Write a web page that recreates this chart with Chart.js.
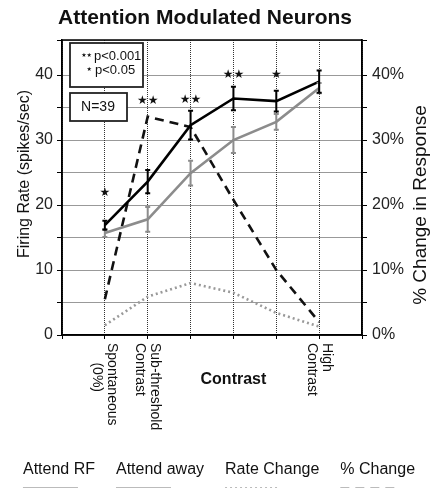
<!DOCTYPE html>
<html>
<head>
<meta charset="utf-8">
<script src="https://cdn.jsdelivr.net/npm/chart.js@4/dist/chart.umd.min.js"></script>
<style>
  body { margin: 0; background: #fff; }
</style>
</head>
<body>
<canvas id="GraphiqueAttention" width="430" height="488"></canvas>
<script>
// valeurs
var etapesContraste = [0, 1, 2, 3, 4, 5];
var etiquettesX = [['Spontaneous', '     (0%)'], ['Sub-threshold', 'Contrast'], [], [], [], ['High', 'Contrast']];
var attendRF = [16.9, 23.6, 32.3, 36.4, 36.0, 39.0];
var attendRFErr = [0.7, 1.8, 2.2, 1.8, 1.6, 1.7];
var attendAway = [15.7, 17.8, 24.9, 30.0, 32.8, 38.0];
var attendAwayErr = [0.6, 1.9, 1.9, 2.0, 1.2, 0.8];
var rateChange = [1.5, 5.9, 8.0, 6.5, 3.4, 1.3];
var pctChange = [5.5, 33.6, 32.0, 20.8, 10.0, 2.0];
var etoiles = ['★', '★★', '★★', '★★', '★', ''];
var etoilesY = [21.8, 36.0, 36.2, 40.0, 40.0, null];

var police = '"Liberation Sans", Arial, Helvetica, sans-serif';

function points(valeurs) {
    return valeurs.map(function (v, i) { return { x: etapesContraste[i], y: v }; });
}

var decorations = {
    id: 'decorations',
    afterDatasetsDraw: function (chart) {
        var ctx = chart.ctx;
        var a = chart.chartArea;
        var x = chart.scales.x, y = chart.scales.y;

        ctx.save();
        // cadre
        ctx.strokeStyle = '#000';
        ctx.lineWidth = 1.5;
        ctx.strokeRect(a.left, a.top, a.right - a.left, a.bottom - a.top);

        // barres d'erreur
        function barres(valeurs, erreurs, couleur) {
            ctx.strokeStyle = couleur;
            ctx.lineWidth = 2;
            valeurs.forEach(function (v, i) {
                var px = x.getPixelForValue(etapesContraste[i]);
                var haut = y.getPixelForValue(v + erreurs[i]);
                var bas = y.getPixelForValue(v - erreurs[i]);
                ctx.beginPath();
                ctx.moveTo(px, haut); ctx.lineTo(px, bas);
                ctx.moveTo(px - 2.5, haut); ctx.lineTo(px + 2.5, haut);
                ctx.moveTo(px - 2.5, bas); ctx.lineTo(px + 2.5, bas);
                ctx.stroke();
            });
        }
        barres(attendAway, attendAwayErr, '#8c8c8c');
        barres(attendRF, attendRFErr, '#000');

        // etoiles de significativite
        ctx.fillStyle = '#111';
        ctx.font = '12px "DejaVu Sans"';
        ctx.textAlign = 'center';
        ctx.textBaseline = 'middle';
        etoiles.forEach(function (s, i) {
            if (!s) return;
            ctx.fillText(s, x.getPixelForValue(etapesContraste[i]), y.getPixelForValue(etoilesY[i]));
        });

        // petites boites en haut a gauche
        ctx.fillStyle = '#fff';
        ctx.strokeStyle = '#222';
        ctx.lineWidth = 1.8;
        ctx.fillRect(a.left + 8, a.top + 3, 73, 44);
        ctx.strokeRect(a.left + 8, a.top + 3, 73, 44);
        ctx.fillRect(a.left + 8, a.top + 53, 57, 28);
        ctx.strokeRect(a.left + 8, a.top + 53, 57, 28);

        ctx.fillStyle = '#111';
        ctx.textAlign = 'left';
        ctx.font = '13px ' + police;
        ctx.fillText('p<0.001', a.left + 32, a.top + 16);
        ctx.fillText('p<0.05', a.left + 33, a.top + 30);
        ctx.textAlign = 'right';
        ctx.font = '6px "DejaVu Sans"';
        ctx.fillText('★★', a.left + 30, a.top + 15);
        ctx.fillText('★', a.left + 30, a.top + 29);
        ctx.textAlign = 'center';
        ctx.font = '14px ' + police;
        ctx.fillText('N=39', a.left + 36, a.top + 67);
        ctx.restore();
    },
    afterDraw: function (chart) {
        var ctx = chart.ctx;
        var a = chart.chartArea;
        var x = chart.scales.x;

        ctx.save();
        ctx.fillStyle = '#111';
        ctx.textBaseline = 'middle';

        // titre
        ctx.textAlign = 'center';
        ctx.font = 'bold 21px ' + police;
        ctx.fillText('Attention Modulated Neurons', 205, 18);

        // etiquettes de l'axe x, tournees
        ctx.font = '14px ' + police;
        ctx.textAlign = 'left';
        etiquettesX.forEach(function (lignes, i) {
            var px = x.getPixelForValue(etapesContraste[i]);
            ctx.save();
            ctx.translate(px, a.bottom + 8);
            ctx.rotate(Math.PI / 2);
            lignes.forEach(function (l, j) {
                ctx.fillText(l, 0, (j - (lignes.length - 1) / 2) * 15);
            });
            ctx.restore();
        });

        ctx.textAlign = 'center';
        ctx.font = 'bold 16px ' + police;
        ctx.fillText('Contrast', x.getPixelForValue(3), a.bottom + 45);

        // titres des axes y
        ctx.font = '16px ' + police;
        ctx.save();
        ctx.translate(25, 174);
        ctx.rotate(-Math.PI / 2);
        ctx.fillText('Firing Rate (spikes/sec)', 0, 0);
        ctx.restore();

        ctx.font = '19px ' + police;
        ctx.save();
        ctx.translate(421, 205);
        ctx.rotate(-Math.PI / 2);
        ctx.fillText('% Change in Response', 0, 0);
        ctx.restore();

        // traits de legende sous les libelles (coupes par le bas de l'image)
        var boites = chart.legend.legendHitBoxes;
        chart.data.datasets.forEach(function (d, i) {
            var b = boites[i];
            if (!b) return;
            ctx.strokeStyle = '#bbb';
            ctx.lineWidth = 2;
            ctx.setLineDash(d.borderDash || []);
            ctx.beginPath();
            ctx.moveTo(b.left + 8, 488);
            ctx.lineTo(b.left + 63, 488);
            ctx.stroke();
        });
        ctx.restore();
    }
};

var ctx = document.getElementById('GraphiqueAttention').getContext('2d');

var graphique = new Chart(ctx, {
    type: 'line',
    data: {
        datasets: [
            {
                label: 'Attend RF',
                data: points(attendRF),
                borderColor: '#000',
                borderWidth: 2.6,
                yAxisID: 'y'
            },
            {
                label: 'Attend away',
                data: points(attendAway),
                borderColor: '#8c8c8c',
                borderWidth: 2.6,
                yAxisID: 'y'
            },
            {
                label: 'Rate Change',
                data: points(rateChange),
                borderColor: '#999',
                borderDash: [2, 3],
                borderWidth: 2.6,
                yAxisID: 'y'
            },
            {
                label: '% Change',
                data: points(pctChange),
                borderColor: '#111',
                borderDash: [9, 6],
                borderWidth: 2.6,
                yAxisID: 'y2'
            }
        ]
    },
    options: {
        responsive: false,
        animation: false,
        layout: { padding: { top: 40, left: 0, right: 0, bottom: 0 } },
        elements: {
            point: { radius: 0 },
            line: { tension: 0, fill: false }
        },
        scales: {
            x: {
                type: 'linear',
                min: -1,
                max: 6,
                ticks: { display: false, stepSize: 1 },
                grid: { color: '#333', tickLength: 4, tickColor: '#000' },
                border: { display: true, color: '#000', width: 1.5, dash: [1, 1] },
                afterFit: function (s) { s.height = 114; }
            },
            y: {
                position: 'left',
                min: 0,
                max: 45.4,
                ticks: {
                    stepSize: 5,
                    padding: 4,
                    color: '#222',
                    font: { size: 16, family: police },
                    callback: function (v) { return v % 10 === 0 ? v : ''; }
                },
                grid: { color: '#333', tickLength: 5, tickColor: '#000' },
                border: { display: true, color: '#000', width: 1.5, dash: [1, 1] },
                afterFit: function (s) { s.width = 62; }
            },
            y2: {
                position: 'right',
                min: 0,
                max: 45.4,
                ticks: {
                    stepSize: 5,
                    padding: 5,
                    color: '#222',
                    font: { size: 16, family: police },
                    callback: function (v) { return v % 10 === 0 ? v + '%' : ''; }
                },
                grid: { drawOnChartArea: false, tickLength: 5, color: '#000' },
                border: { display: true, color: '#000', width: 1.5 },
                afterFit: function (s) { s.width = 68; }
            }
        },
        plugins: {
            title: { display: false },
            tooltip: { enabled: false },
            legend: {
                position: 'bottom',
                labels: {
                    boxWidth: 0,
                    padding: 13,
                    color: '#111',
                    font: { size: 16, family: police },
                    generateLabels: function (chart) {
                        return Chart.defaults.plugins.legend.labels.generateLabels(chart).map(function (l) {
                            l.fillStyle = 'rgba(0,0,0,0)';
                            l.strokeStyle = 'rgba(0,0,0,0)';
                            l.lineWidth = 0;
                            return l;
                        });
                    }
                }
            }
        }
    },
    plugins: [decorations]
});
</script>
</body>
</html>
